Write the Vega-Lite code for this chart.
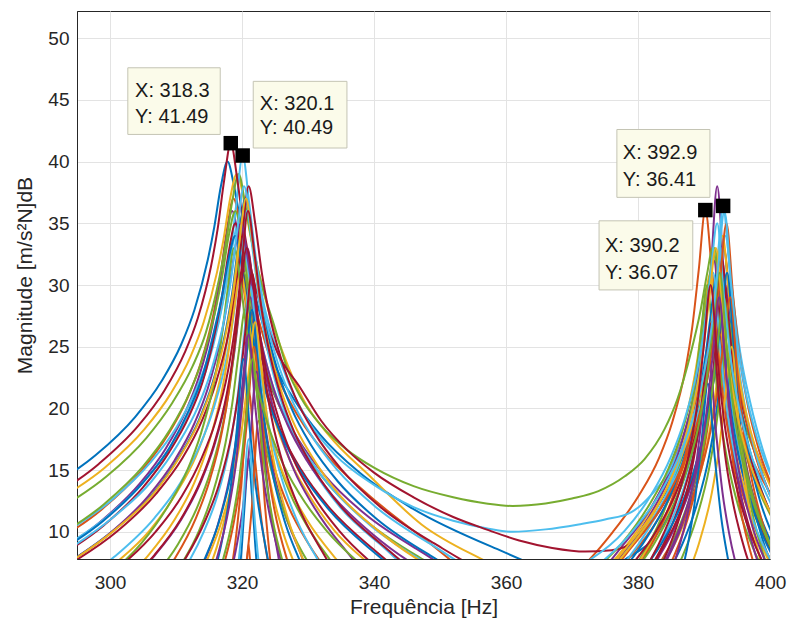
{
"$schema":"https://vega.github.io/schema/vega-lite/v6.json",
"width":693,"height":548,
"autosize":{"type":"none"},
"padding":{"left":77,"top":11,"right":18,"bottom":71},
"background":"white",
"config":{"view":{"stroke":"#262626","strokeWidth":1},"font":"Liberation Sans"},
"layer":[
{"data":{"values":[
{"c":"01","f":289.8,"m":13.3},{"c":"01","f":297.8,"m":16.2},{"c":"01","f":303.8,"m":19.3},{"c":"01","f":307.8,"m":22.2},{"c":"01","f":310.8,"m":25.2},{"c":"01","f":312.8,"m":28.0},{"c":"01","f":314.8,"m":32.0},{"c":"01","f":315.8,"m":34.7},{"c":"01","f":316.8,"m":38.0},{"c":"01","f":317.8,"m":40.0},{"c":"01","f":318.8,"m":38.0},{"c":"01","f":319.8,"m":35.0},{"c":"01","f":320.8,"m":32.0},{"c":"01","f":322.8,"m":27.5},{"c":"01","f":324.8,"m":23.8},{"c":"01","f":327.8,"m":20.8},{"c":"01","f":331.8,"m":17.9},{"c":"01","f":337.8,"m":14.8},{"c":"01","f":345.8,"m":11.9},{"c":"01","f":357.8,"m":8.8},{"c":"01","f":367.8,"m":6.8},{"c":"01","f":374,"m":6.5},{"c":"01","f":378.4,"m":7.9},{"c":"01","f":382.4,"m":9.5},{"c":"01","f":385.4,"m":12.2},{"c":"01","f":387.4,"m":15.0},{"c":"01","f":389.4,"m":19.0},{"c":"01","f":390.4,"m":22.0},{"c":"01","f":391.4,"m":26.0},{"c":"01","f":392.4,"m":29.0},{"c":"01","f":393.4,"m":24.9},{"c":"01","f":394.4,"m":20.4},{"c":"01","f":395.4,"m":17.2},{"c":"01","f":397.4,"m":13.0},{"c":"01","f":399.4,"m":10.1},{"c":"01","f":402.4,"m":7.0},
{"c":"02","f":290.7,"m":8.9},{"c":"02","f":298.7,"m":11.8},{"c":"02","f":304.7,"m":14.9},{"c":"02","f":308.7,"m":17.8},{"c":"02","f":311.7,"m":20.8},{"c":"02","f":313.7,"m":23.6},{"c":"02","f":315.7,"m":27.7},{"c":"02","f":316.7,"m":30.7},{"c":"02","f":317.7,"m":34.4},{"c":"02","f":318.7,"m":37.0},{"c":"02","f":319.7,"m":35.0},{"c":"02","f":320.7,"m":31.7},{"c":"02","f":321.7,"m":29.0},{"c":"02","f":323.7,"m":25.0},{"c":"02","f":325.7,"m":22.2},{"c":"02","f":328.7,"m":19.2},{"c":"02","f":332.7,"m":16.3},{"c":"02","f":338.7,"m":13.2},{"c":"02","f":346.7,"m":9.8},{"c":"02","f":358.7,"m":5.5},{"c":"02","f":366,"m":5.0},{"c":"02","f":370.2,"m":6.5},{"c":"02","f":376.2,"m":10.0},{"c":"02","f":380.2,"m":13.0},{"c":"02","f":383.2,"m":16.0},{"c":"02","f":385.2,"m":18.9},{"c":"02","f":387.2,"m":23.2},{"c":"02","f":388.2,"m":26.5},{"c":"02","f":389.2,"m":31.2},{"c":"02","f":390.2,"m":36.07},{"c":"02","f":391.2,"m":31.2},{"c":"02","f":392.2,"m":26.5},{"c":"02","f":393.2,"m":23.2},{"c":"02","f":395.2,"m":18.9},{"c":"02","f":397.2,"m":16.0},{"c":"02","f":400.2,"m":13.0},
{"c":"03","f":291.2,"m":12.3},{"c":"03","f":299.2,"m":15.2},{"c":"03","f":305.2,"m":18.3},{"c":"03","f":309.2,"m":21.2},{"c":"03","f":312.2,"m":24.2},{"c":"03","f":314.2,"m":27.0},{"c":"03","f":316.2,"m":31.0},{"c":"03","f":317.2,"m":33.7},{"c":"03","f":318.2,"m":37.0},{"c":"03","f":319.2,"m":39.0},{"c":"03","f":320.2,"m":37.2},{"c":"03","f":321.2,"m":34.2},{"c":"03","f":322.2,"m":31.8},{"c":"03","f":324.2,"m":27.6},{"c":"03","f":326.2,"m":24.5},{"c":"03","f":329.2,"m":20.8},{"c":"03","f":333.2,"m":17.8},{"c":"03","f":339.2,"m":14.6},{"c":"03","f":347.2,"m":10.6},{"c":"03","f":357,"m":7.6},{"c":"03","f":365,"m":5.5},{"c":"03","f":371,"m":5.2},{"c":"03","f":377,"m":8.1},{"c":"03","f":381,"m":11.0},{"c":"03","f":384,"m":14.0},{"c":"03","f":386,"m":16.9},{"c":"03","f":388,"m":21.0},{"c":"03","f":389,"m":24.0},{"c":"03","f":390,"m":28.0},{"c":"03","f":391,"m":31.0},{"c":"03","f":392,"m":26.2},{"c":"03","f":393,"m":21.4},{"c":"03","f":394,"m":18.1},{"c":"03","f":396,"m":13.8},{"c":"03","f":398,"m":11.0},{"c":"03","f":401,"m":7.9},
{"c":"04","f":290.5,"m":7.9},{"c":"04","f":298.5,"m":10.8},{"c":"04","f":304.5,"m":13.9},{"c":"04","f":308.5,"m":16.8},{"c":"04","f":311.5,"m":19.8},{"c":"04","f":313.5,"m":22.6},{"c":"04","f":315.5,"m":26.7},{"c":"04","f":316.5,"m":29.7},{"c":"04","f":317.5,"m":33.4},{"c":"04","f":318.5,"m":36.0},{"c":"04","f":319.5,"m":33.7},{"c":"04","f":320.5,"m":30.2},{"c":"04","f":321.5,"m":27.4},{"c":"04","f":323.5,"m":23.1},{"c":"04","f":325.5,"m":20.4},{"c":"04","f":328.5,"m":17.5},{"c":"04","f":332.5,"m":14.6},{"c":"04","f":338.5,"m":11.5},{"c":"04","f":346.5,"m":8.6},{"c":"04","f":358.5,"m":5.5},{"c":"04","f":372,"m":6.0},{"c":"04","f":378,"m":9.1},{"c":"04","f":382,"m":12.0},{"c":"04","f":385,"m":15.1},{"c":"04","f":387,"m":18.0},{"c":"04","f":389,"m":22.3},{"c":"04","f":390,"m":25.7},{"c":"04","f":391,"m":31.0},{"c":"04","f":392,"m":38.0},{"c":"04","f":393,"m":31.0},{"c":"04","f":394,"m":25.7},{"c":"04","f":395,"m":22.3},{"c":"04","f":397,"m":18.0},{"c":"04","f":399,"m":15.1},{"c":"04","f":402,"m":12.0},
{"c":"05","f":291.5,"m":11.6},{"c":"05","f":299.5,"m":14.5},{"c":"05","f":305.5,"m":17.6},{"c":"05","f":309.5,"m":20.5},{"c":"05","f":312.5,"m":23.4},{"c":"05","f":314.5,"m":26.1},{"c":"05","f":316.5,"m":30.4},{"c":"05","f":317.5,"m":33.2},{"c":"05","f":318.5,"m":36.7},{"c":"05","f":319.5,"m":39.0},{"c":"05","f":320.5,"m":36.5},{"c":"05","f":321.5,"m":33.5},{"c":"05","f":323,"m":30.0},{"c":"05","f":325,"m":26.5},{"c":"05","f":327,"m":23.0},{"c":"05","f":329,"m":20.8},{"c":"05","f":332,"m":18.6},{"c":"05","f":336,"m":16.6},{"c":"05","f":340,"m":15.2},{"c":"05","f":346,"m":13.7},{"c":"05","f":352,"m":12.8},{"c":"05","f":357,"m":12.3},{"c":"05","f":361,"m":12.1},{"c":"05","f":366,"m":12.3},{"c":"05","f":370,"m":12.7},{"c":"05","f":374,"m":13.3},{"c":"05","f":378,"m":14.5},{"c":"05","f":381,"m":15.9},{"c":"05","f":384,"m":18.3},{"c":"05","f":386,"m":20.8},{"c":"05","f":388,"m":24.5},{"c":"05","f":389.5,"m":28.0},{"c":"05","f":390.5,"m":31.0},{"c":"05","f":391.3,"m":33.0},{"c":"05","f":392.3,"m":29.5},{"c":"05","f":393.3,"m":25.5},{"c":"05","f":394.3,"m":22.5},{"c":"05","f":396.3,"m":18.5},{"c":"05","f":398.3,"m":15.7},{"c":"05","f":401,"m":13.0},
{"c":"06","f":292.1,"m":9.6},{"c":"06","f":300.1,"m":12.5},{"c":"06","f":306.1,"m":15.6},{"c":"06","f":310.1,"m":18.5},{"c":"06","f":313.1,"m":21.6},{"c":"06","f":315.1,"m":24.5},{"c":"06","f":317.1,"m":28.7},{"c":"06","f":318.1,"m":31.9},{"c":"06","f":319.1,"m":36.4},{"c":"06","f":320.1,"m":40.49},{"c":"06","f":321.1,"m":36.6},{"c":"06","f":322.1,"m":32.2},{"c":"06","f":323.1,"m":29.0},{"c":"06","f":325.1,"m":25.0},{"c":"06","f":327.1,"m":22.0},{"c":"06","f":330,"m":19.0},{"c":"06","f":334,"m":16.3},{"c":"06","f":340,"m":13.8},{"c":"06","f":346,"m":12.0},{"c":"06","f":352,"m":10.9},{"c":"06","f":357,"m":10.3},{"c":"06","f":361,"m":10.0},{"c":"06","f":366,"m":10.2},{"c":"06","f":371,"m":10.6},{"c":"06","f":375,"m":11.0},{"c":"06","f":379,"m":11.6},{"c":"06","f":382,"m":13.0},{"c":"06","f":385,"m":15.2},{"c":"06","f":387,"m":17.8},{"c":"06","f":389,"m":21.5},{"c":"06","f":390.5,"m":25.0},{"c":"06","f":391.5,"m":29.0},{"c":"06","f":392.2,"m":33.0},{"c":"06","f":392.9,"m":36.41},{"c":"06","f":393.7,"m":32.5},{"c":"06","f":394.5,"m":28.5},{"c":"06","f":395.5,"m":24.5},{"c":"06","f":397,"m":20.5},{"c":"06","f":399,"m":16.5},{"c":"06","f":401,"m":13.5},
{"c":"07","f":290.3,"m":12.5},{"c":"07","f":298.3,"m":15.5},{"c":"07","f":304.3,"m":18.6},{"c":"07","f":308.3,"m":21.5},{"c":"07","f":311.3,"m":24.5},{"c":"07","f":313.3,"m":27.3},{"c":"07","f":315.3,"m":31.5},{"c":"07","f":316.3,"m":34.5},{"c":"07","f":317.3,"m":38.5},{"c":"07","f":318.3,"m":41.49},{"c":"07","f":319.3,"m":38.5},{"c":"07","f":320.3,"m":34.5},{"c":"07","f":321.3,"m":31.5},{"c":"07","f":323.3,"m":27.5},{"c":"07","f":325.3,"m":24.6},{"c":"07","f":328.8,"m":21.7},{"c":"07","f":332,"m":19.0},{"c":"07","f":336,"m":16.6},{"c":"07","f":340,"m":14.8},{"c":"07","f":346,"m":12.8},{"c":"07","f":352,"m":11.2},{"c":"07","f":357,"m":10.2},{"c":"07","f":362,"m":9.3},{"c":"07","f":367,"m":8.7},{"c":"07","f":372,"m":8.4},{"c":"07","f":376,"m":8.5},{"c":"07","f":380,"m":9.5},{"c":"07","f":383,"m":11.5},{"c":"07","f":386,"m":14.5},{"c":"07","f":388,"m":17.5},{"c":"07","f":389.5,"m":20.5},{"c":"07","f":390.5,"m":23.5},{"c":"07","f":391.5,"m":27.5},{"c":"07","f":392.5,"m":32.0},{"c":"07","f":393.5,"m":28.0},{"c":"07","f":394.5,"m":24.0},{"c":"07","f":395.5,"m":21.0},{"c":"07","f":397.5,"m":16.8},{"c":"07","f":400,"m":13.0},
{"c":"08","f":292.5,"m":7.1},{"c":"08","f":300.5,"m":10.1},{"c":"08","f":306.5,"m":13.1},{"c":"08","f":310.5,"m":16.1},{"c":"08","f":313.5,"m":19.1},{"c":"08","f":315.5,"m":22.0},{"c":"08","f":317.5,"m":26.2},{"c":"08","f":318.5,"m":29.3},{"c":"08","f":319.5,"m":33.5},{"c":"08","f":320.5,"m":37.0},{"c":"08","f":321.5,"m":34.0},{"c":"08","f":322.5,"m":30.0},{"c":"08","f":323.5,"m":27.0},{"c":"08","f":325.5,"m":22.9},{"c":"08","f":327.5,"m":20.0},{"c":"08","f":330.5,"m":17.0},{"c":"08","f":334.5,"m":14.1},{"c":"08","f":340.5,"m":11.0},{"c":"08","f":348.5,"m":8.1},{"c":"08","f":360.5,"m":5.0},{"c":"08","f":373,"m":6.1},{"c":"08","f":379,"m":9.1},{"c":"08","f":383,"m":12.1},{"c":"08","f":386,"m":15.1},{"c":"08","f":388,"m":18.0},{"c":"08","f":390,"m":22.2},{"c":"08","f":391,"m":25.3},{"c":"08","f":392,"m":29.5},{"c":"08","f":393,"m":33.0},{"c":"08","f":394,"m":27.2},{"c":"08","f":395,"m":22.2},{"c":"08","f":396,"m":18.9},{"c":"08","f":398,"m":14.5},{"c":"08","f":400,"m":11.6},{"c":"08","f":403,"m":8.5},
{"c":"09","f":319,"m":-5.2},{"c":"09","f":320,"m":0.4},{"c":"09","f":320.5,"m":4.9},{"c":"09","f":321,"m":9.0},{"c":"09","f":321.5,"m":4.9},{"c":"09","f":322,"m":0.4},{"c":"09","f":323,"m":-5.2},{"c":"09","f":373,"m":5.0},{"c":"09","f":379,"m":8.1},{"c":"09","f":383,"m":11.0},{"c":"09","f":386,"m":14.1},{"c":"09","f":388,"m":17.0},{"c":"09","f":390,"m":21.2},{"c":"09","f":391,"m":24.4},{"c":"09","f":392,"m":28.9},{"c":"09","f":393,"m":33.0},{"c":"09","f":394,"m":28.2},{"c":"09","f":395,"m":23.4},{"c":"09","f":396,"m":20.1},{"c":"09","f":398,"m":15.8},{"c":"09","f":400,"m":13.0},{"c":"09","f":403,"m":9.9},
{"c":"10","f":292,"m":4.1},{"c":"10","f":300,"m":7.1},{"c":"10","f":306,"m":10.1},{"c":"10","f":310,"m":13.1},{"c":"10","f":313,"m":16.1},{"c":"10","f":315,"m":19.0},{"c":"10","f":317,"m":23.2},{"c":"10","f":318,"m":26.3},{"c":"10","f":319,"m":30.5},{"c":"10","f":320,"m":34.0},{"c":"10","f":321,"m":30.5},{"c":"10","f":322,"m":26.3},{"c":"10","f":323,"m":23.2},{"c":"10","f":325,"m":19.0},{"c":"10","f":327,"m":16.1},{"c":"10","f":330,"m":13.1},{"c":"10","f":334,"m":10.1},{"c":"10","f":340,"m":7.1},{"c":"10","f":348,"m":4.1},{"c":"10","f":379.5,"m":4.1},{"c":"10","f":383.5,"m":7.1},{"c":"10","f":386.5,"m":10.1},{"c":"10","f":388.5,"m":13.0},{"c":"10","f":390.5,"m":17.2},{"c":"10","f":391.5,"m":20.3},{"c":"10","f":392.5,"m":24.5},{"c":"10","f":393.5,"m":28.0},{"c":"10","f":394.5,"m":23.2},{"c":"10","f":395.5,"m":18.4},{"c":"10","f":396.5,"m":15.1},{"c":"10","f":398.5,"m":10.8},{"c":"10","f":400.5,"m":8.0},
{"c":"11","f":300.8,"m":5.0},{"c":"11","f":306.8,"m":8.1},{"c":"11","f":310.8,"m":11.0},{"c":"11","f":313.8,"m":14.1},{"c":"11","f":315.8,"m":17.0},{"c":"11","f":317.8,"m":21.2},{"c":"11","f":318.8,"m":24.4},{"c":"11","f":319.8,"m":28.9},{"c":"11","f":320.8,"m":33.0},{"c":"11","f":321.8,"m":29.5},{"c":"11","f":322.8,"m":25.3},{"c":"11","f":323.8,"m":22.2},{"c":"11","f":325.8,"m":18.0},{"c":"11","f":327.8,"m":15.1},{"c":"11","f":330.8,"m":12.1},{"c":"11","f":334.8,"m":9.1},{"c":"11","f":340.8,"m":6.1},{"c":"11","f":371.5,"m":5.1},{"c":"11","f":377.5,"m":8.1},{"c":"11","f":381.5,"m":11.1},{"c":"11","f":384.5,"m":14.1},{"c":"11","f":386.5,"m":17.0},{"c":"11","f":388.5,"m":21.2},{"c":"11","f":389.5,"m":24.3},{"c":"11","f":390.5,"m":28.5},{"c":"11","f":391.5,"m":32.0},{"c":"11","f":392.5,"m":26.2},{"c":"11","f":393.5,"m":21.2},{"c":"11","f":394.5,"m":17.9},{"c":"11","f":396.5,"m":13.5},{"c":"11","f":398.5,"m":10.6},{"c":"11","f":401.5,"m":7.5},
{"c":"12","f":291,"m":9.3},{"c":"12","f":299,"m":12.2},{"c":"12","f":305,"m":15.3},{"c":"12","f":309,"m":18.2},{"c":"12","f":312,"m":21.2},{"c":"12","f":314,"m":24.0},{"c":"12","f":316,"m":28.0},{"c":"12","f":317,"m":30.7},{"c":"12","f":318,"m":34.0},{"c":"12","f":319,"m":36.0},{"c":"12","f":320,"m":33.4},{"c":"12","f":321,"m":29.7},{"c":"12","f":322,"m":26.7},{"c":"12","f":324,"m":22.6},{"c":"12","f":326,"m":19.8},{"c":"12","f":329,"m":16.8},{"c":"12","f":333,"m":13.9},{"c":"12","f":339,"m":10.8},{"c":"12","f":347,"m":7.9},{"c":"12","f":359,"m":4.8},{"c":"12","f":376.5,"m":5.1},{"c":"12","f":380.5,"m":8.0},{"c":"12","f":383.5,"m":11.1},{"c":"12","f":385.5,"m":14.0},{"c":"12","f":387.5,"m":18.2},{"c":"12","f":388.5,"m":21.4},{"c":"12","f":389.5,"m":25.9},{"c":"12","f":390.5,"m":30.0},{"c":"12","f":391.5,"m":24.2},{"c":"12","f":392.5,"m":19.2},{"c":"12","f":393.5,"m":15.9},{"c":"12","f":395.5,"m":11.5},{"c":"12","f":397.5,"m":8.6},{"c":"12","f":400.5,"m":5.5},
{"c":"13","f":291.5,"m":8.3},{"c":"13","f":299.5,"m":11.2},{"c":"13","f":305.5,"m":14.3},{"c":"13","f":309.5,"m":17.2},{"c":"13","f":312.5,"m":20.2},{"c":"13","f":314.5,"m":23.0},{"c":"13","f":316.5,"m":27.0},{"c":"13","f":317.5,"m":29.7},{"c":"13","f":318.5,"m":33.0},{"c":"13","f":319.5,"m":35.0},{"c":"13","f":320.5,"m":32.7},{"c":"13","f":321.5,"m":29.2},{"c":"13","f":322.5,"m":26.4},{"c":"13","f":324.5,"m":22.1},{"c":"13","f":326.5,"m":19.4},{"c":"13","f":329.5,"m":16.5},{"c":"13","f":333.5,"m":13.6},{"c":"13","f":339.5,"m":10.5},{"c":"13","f":347.5,"m":7.6},{"c":"13","f":359.5,"m":4.5},{"c":"13","f":378.2,"m":5.1},{"c":"13","f":382.2,"m":8.0},{"c":"13","f":385.2,"m":11.1},{"c":"13","f":387.2,"m":14.0},{"c":"13","f":389.2,"m":18.2},{"c":"13","f":390.2,"m":21.4},{"c":"13","f":391.2,"m":25.9},{"c":"13","f":392.2,"m":30.0},{"c":"13","f":393.2,"m":25.2},{"c":"13","f":394.2,"m":20.4},{"c":"13","f":395.2,"m":17.1},{"c":"13","f":397.2,"m":12.8},{"c":"13","f":399.2,"m":10.0},{"c":"13","f":402.2,"m":6.9},
{"c":"14","f":291,"m":7.6},{"c":"14","f":299,"m":10.5},{"c":"14","f":305,"m":13.6},{"c":"14","f":309,"m":16.5},{"c":"14","f":312,"m":19.4},{"c":"14","f":314,"m":22.1},{"c":"14","f":316,"m":26.4},{"c":"14","f":317,"m":29.2},{"c":"14","f":318,"m":32.7},{"c":"14","f":319,"m":35.0},{"c":"14","f":320,"m":32.0},{"c":"14","f":321,"m":28.0},{"c":"14","f":322,"m":25.0},{"c":"14","f":324,"m":20.9},{"c":"14","f":326,"m":18.0},{"c":"14","f":329,"m":15.0},{"c":"14","f":333,"m":12.1},{"c":"14","f":339,"m":9.0},{"c":"14","f":347,"m":6.1},{"c":"14","f":377.8,"m":4.1},{"c":"14","f":381.8,"m":7.0},{"c":"14","f":384.8,"m":10.1},{"c":"14","f":386.8,"m":13.0},{"c":"14","f":388.8,"m":17.2},{"c":"14","f":389.8,"m":20.4},{"c":"14","f":390.8,"m":24.9},{"c":"14","f":391.8,"m":29.0},{"c":"14","f":392.8,"m":23.2},{"c":"14","f":393.8,"m":18.2},{"c":"14","f":394.8,"m":14.9},{"c":"14","f":396.8,"m":10.5},{"c":"14","f":398.8,"m":7.6},
{"c":"15","f":319,"m":3.7},{"c":"15","f":320,"m":9.0},{"c":"15","f":320.5,"m":13.0},{"c":"15","f":321,"m":16.0},{"c":"15","f":321.5,"m":13.0},{"c":"15","f":322,"m":9.0},{"c":"15","f":323,"m":3.7},{"c":"15","f":379.8,"m":3.1},{"c":"15","f":383.8,"m":6.0},{"c":"15","f":386.8,"m":9.1},{"c":"15","f":388.8,"m":12.0},{"c":"15","f":390.8,"m":16.2},{"c":"15","f":391.8,"m":19.4},{"c":"15","f":392.8,"m":23.9},{"c":"15","f":393.8,"m":28.0},{"c":"15","f":394.8,"m":22.2},{"c":"15","f":395.8,"m":17.2},{"c":"15","f":396.8,"m":13.9},{"c":"15","f":398.8,"m":9.5},{"c":"15","f":400.8,"m":6.6},
{"c":"16","f":316,"m":1.5},{"c":"16","f":318,"m":5.8},{"c":"16","f":319,"m":9.2},{"c":"16","f":320,"m":14.5},{"c":"16","f":321,"m":21.5},{"c":"16","f":322,"m":15.7},{"c":"16","f":323,"m":10.7},{"c":"16","f":324,"m":7.4},{"c":"16","f":326,"m":3.0},{"c":"16","f":378.5,"m":2.1},{"c":"16","f":382.5,"m":5.1},{"c":"16","f":385.5,"m":8.1},{"c":"16","f":387.5,"m":11.0},{"c":"16","f":389.5,"m":15.2},{"c":"16","f":390.5,"m":18.3},{"c":"16","f":391.5,"m":22.5},{"c":"16","f":392.5,"m":26.0},{"c":"16","f":393.5,"m":20.2},{"c":"16","f":394.5,"m":15.2},{"c":"16","f":395.5,"m":11.9},{"c":"16","f":397.5,"m":7.5},{"c":"16","f":399.5,"m":4.6},
{"c":"17","f":311.2,"m":2.9},{"c":"17","f":314.2,"m":6.0},{"c":"17","f":316.2,"m":8.8},{"c":"17","f":318.2,"m":13.1},{"c":"17","f":319.2,"m":16.4},{"c":"17","f":320.2,"m":21.2},{"c":"17","f":321.2,"m":26.0},{"c":"17","f":322.2,"m":21.9},{"c":"17","f":323.2,"m":17.4},{"c":"17","f":324.2,"m":14.2},{"c":"17","f":326.2,"m":10.0},{"c":"17","f":328.2,"m":7.1},{"c":"17","f":331.2,"m":4.0},{"c":"17","f":372,"m":3.1},{"c":"17","f":378,"m":6.1},{"c":"17","f":382,"m":9.1},{"c":"17","f":385,"m":12.1},{"c":"17","f":387,"m":15.0},{"c":"17","f":389,"m":19.2},{"c":"17","f":390,"m":22.3},{"c":"17","f":391,"m":26.5},{"c":"17","f":392,"m":30.0},{"c":"17","f":393,"m":24.2},{"c":"17","f":394,"m":19.2},{"c":"17","f":395,"m":15.9},{"c":"17","f":397,"m":11.5},{"c":"17","f":399,"m":8.6},{"c":"17","f":402,"m":5.5},
{"c":"18","f":307.3,"m":1.6},{"c":"18","f":311.3,"m":4.5},{"c":"18","f":314.3,"m":7.6},{"c":"18","f":316.3,"m":10.5},{"c":"18","f":318.3,"m":14.9},{"c":"18","f":319.3,"m":18.2},{"c":"18","f":320.3,"m":23.2},{"c":"18","f":321.3,"m":29.0},{"c":"18","f":322.3,"m":24.2},{"c":"18","f":323.3,"m":19.4},{"c":"18","f":324.3,"m":16.1},{"c":"18","f":326.3,"m":11.8},{"c":"18","f":328.3,"m":9.0},{"c":"18","f":331.3,"m":5.9},{"c":"18","f":379.2,"m":5.1},{"c":"18","f":383.2,"m":8.0},{"c":"18","f":386.2,"m":11.1},{"c":"18","f":388.2,"m":14.0},{"c":"18","f":390.2,"m":18.2},{"c":"18","f":391.2,"m":21.4},{"c":"18","f":392.2,"m":25.9},{"c":"18","f":393.2,"m":30.0},{"c":"18","f":394.2,"m":24.2},{"c":"18","f":395.2,"m":19.2},{"c":"18","f":396.2,"m":15.9},{"c":"18","f":398.2,"m":11.5},{"c":"18","f":400.2,"m":8.6},
{"c":"19","f":300.3,"m":3.0},{"c":"19","f":306.3,"m":6.1},{"c":"19","f":310.3,"m":9.0},{"c":"19","f":313.3,"m":12.1},{"c":"19","f":315.3,"m":15.0},{"c":"19","f":317.3,"m":19.2},{"c":"19","f":318.3,"m":22.4},{"c":"19","f":319.3,"m":26.9},{"c":"19","f":320.3,"m":31.0},{"c":"19","f":321.3,"m":27.5},{"c":"19","f":322.3,"m":23.3},{"c":"19","f":323.3,"m":20.2},{"c":"19","f":325.3,"m":16.0},{"c":"19","f":327.3,"m":13.1},{"c":"19","f":330.3,"m":10.1},{"c":"19","f":334.3,"m":7.1},{"c":"19","f":340.3,"m":4.1},{"c":"19","f":363.6,"m":3.1},{"c":"19","f":371.6,"m":6.1},{"c":"19","f":377.6,"m":9.1},{"c":"19","f":381.6,"m":12.1},{"c":"19","f":384.6,"m":15.1},{"c":"19","f":386.6,"m":18.0},{"c":"19","f":388.6,"m":22.2},{"c":"19","f":389.6,"m":25.3},{"c":"19","f":390.6,"m":29.5},{"c":"19","f":391.6,"m":33.0},{"c":"19","f":392.6,"m":28.2},{"c":"19","f":393.6,"m":23.4},{"c":"19","f":394.6,"m":20.1},{"c":"19","f":396.6,"m":15.8},{"c":"19","f":398.6,"m":13.0},{"c":"19","f":401.6,"m":9.9},
{"c":"20","f":292.7,"m":5.0},{"c":"20","f":300.7,"m":8.0},{"c":"20","f":306.7,"m":11.1},{"c":"20","f":310.7,"m":14.0},{"c":"20","f":313.7,"m":17.1},{"c":"20","f":315.7,"m":20.0},{"c":"20","f":317.7,"m":24.2},{"c":"20","f":318.7,"m":27.4},{"c":"20","f":319.7,"m":31.9},{"c":"20","f":320.7,"m":36.0},{"c":"20","f":321.7,"m":32.5},{"c":"20","f":322.7,"m":28.3},{"c":"20","f":323.7,"m":25.2},{"c":"20","f":325.7,"m":21.0},{"c":"20","f":327.7,"m":18.1},{"c":"20","f":330.7,"m":15.1},{"c":"20","f":334.7,"m":12.1},{"c":"20","f":340.7,"m":9.1},{"c":"20","f":348.7,"m":6.1},{"c":"20","f":373.3,"m":6.0},{"c":"20","f":379.3,"m":9.1},{"c":"20","f":383.3,"m":12.0},{"c":"20","f":386.3,"m":15.1},{"c":"20","f":388.3,"m":18.0},{"c":"20","f":390.3,"m":22.2},{"c":"20","f":391.3,"m":25.4},{"c":"20","f":392.3,"m":29.9},{"c":"20","f":393.3,"m":34.0},{"c":"20","f":394.3,"m":28.2},{"c":"20","f":395.3,"m":23.2},{"c":"20","f":396.3,"m":19.9},{"c":"20","f":398.3,"m":15.5},{"c":"20","f":400.3,"m":12.6},
{"c":"21","f":293,"m":7.1},{"c":"21","f":301,"m":10.0},{"c":"21","f":307,"m":13.1},{"c":"21","f":311,"m":16.0},{"c":"21","f":314,"m":19.1},{"c":"21","f":316,"m":22.0},{"c":"21","f":318,"m":26.2},{"c":"21","f":319,"m":29.4},{"c":"21","f":320,"m":33.9},{"c":"21","f":321,"m":38.0},{"c":"21","f":322,"m":35.0},{"c":"21","f":323,"m":31.0},{"c":"21","f":324,"m":28.0},{"c":"21","f":326,"m":23.9},{"c":"21","f":328,"m":21.0},{"c":"21","f":331,"m":18.0},{"c":"21","f":335,"m":15.1},{"c":"21","f":341,"m":12.0},{"c":"21","f":349,"m":9.1},{"c":"21","f":361,"m":6.0},{"c":"21","f":379,"m":5.1},{"c":"21","f":383,"m":8.0},{"c":"21","f":386,"m":11.1},{"c":"21","f":388,"m":14.0},{"c":"21","f":390,"m":18.2},{"c":"21","f":391,"m":21.4},{"c":"21","f":392,"m":25.9},{"c":"21","f":393,"m":30.0},{"c":"21","f":394,"m":24.2},{"c":"21","f":395,"m":19.2},{"c":"21","f":396,"m":15.9},{"c":"21","f":398,"m":11.5},{"c":"21","f":400,"m":8.6},
{"c":"22","f":291,"m":8.0},{"c":"22","f":299,"m":10.9},{"c":"22","f":305,"m":14.0},{"c":"22","f":309,"m":16.8},{"c":"22","f":312,"m":19.9},{"c":"22","f":314,"m":22.6},{"c":"22","f":316,"m":26.8},{"c":"22","f":317,"m":29.2},{"c":"22","f":318,"m":32.2},{"c":"22","f":319,"m":34.0},{"c":"22","f":320,"m":31.4},{"c":"22","f":321,"m":27.7},{"c":"22","f":322,"m":24.7},{"c":"22","f":324,"m":20.6},{"c":"22","f":326,"m":17.8},{"c":"22","f":329,"m":14.8},{"c":"22","f":333,"m":11.9},{"c":"22","f":339,"m":8.8},{"c":"22","f":347,"m":5.9},{"c":"22","f":372,"m":4.1},{"c":"22","f":378,"m":7.1},{"c":"22","f":382,"m":10.1},{"c":"22","f":385,"m":13.1},{"c":"22","f":387,"m":16.0},{"c":"22","f":389,"m":20.2},{"c":"22","f":390,"m":23.3},{"c":"22","f":391,"m":27.5},{"c":"22","f":392,"m":31.0},{"c":"22","f":393,"m":25.2},{"c":"22","f":394,"m":20.2},{"c":"22","f":395,"m":16.9},{"c":"22","f":397,"m":12.5},{"c":"22","f":399,"m":9.6},{"c":"22","f":402,"m":6.5},
{"c":"23","f":300,"m":2.0},{"c":"23","f":306,"m":5.1},{"c":"23","f":310,"m":8.0},{"c":"23","f":313,"m":11.1},{"c":"23","f":315,"m":14.0},{"c":"23","f":317,"m":18.2},{"c":"23","f":318,"m":21.4},{"c":"23","f":319,"m":25.9},{"c":"23","f":320,"m":30.0},{"c":"23","f":321,"m":26.5},{"c":"23","f":322,"m":22.3},{"c":"23","f":323,"m":19.2},{"c":"23","f":325,"m":15.0},{"c":"23","f":327,"m":12.1},{"c":"23","f":330,"m":9.1},{"c":"23","f":334,"m":6.1},{"c":"23","f":340,"m":3.1},{"c":"23","f":377,"m":5.1},{"c":"23","f":381,"m":8.0},{"c":"23","f":384,"m":11.1},{"c":"23","f":386,"m":14.0},{"c":"23","f":388,"m":18.2},{"c":"23","f":389,"m":21.4},{"c":"23","f":390,"m":25.9},{"c":"23","f":391,"m":30.0},{"c":"23","f":392,"m":25.2},{"c":"23","f":393,"m":20.4},{"c":"23","f":394,"m":17.1},{"c":"23","f":396,"m":12.8},{"c":"23","f":398,"m":10.0},{"c":"23","f":401,"m":6.9},
{"c":"24","f":299.8,"m":5.0},{"c":"24","f":305.8,"m":8.1},{"c":"24","f":309.8,"m":11.0},{"c":"24","f":312.8,"m":14.0},{"c":"24","f":314.8,"m":16.9},{"c":"24","f":316.8,"m":21.0},{"c":"24","f":317.8,"m":24.0},{"c":"24","f":318.8,"m":28.0},{"c":"24","f":319.8,"m":31.0},{"c":"24","f":320.8,"m":28.0},{"c":"24","f":321.8,"m":24.0},{"c":"24","f":322.8,"m":21.0},{"c":"24","f":324.8,"m":16.9},{"c":"24","f":326.8,"m":14.0},{"c":"24","f":329.8,"m":11.0},{"c":"24","f":333.8,"m":8.1},{"c":"24","f":339.8,"m":5.0},{"c":"24","f":372.8,"m":6.0},{"c":"24","f":378.8,"m":9.1},{"c":"24","f":382.8,"m":12.0},{"c":"24","f":385.8,"m":15.1},{"c":"24","f":387.8,"m":18.0},{"c":"24","f":389.8,"m":22.2},{"c":"24","f":390.8,"m":25.4},{"c":"24","f":391.8,"m":29.9},{"c":"24","f":392.8,"m":34.0},{"c":"24","f":393.8,"m":29.2},{"c":"24","f":394.8,"m":24.4},{"c":"24","f":395.8,"m":21.1},{"c":"24","f":397.8,"m":16.8},{"c":"24","f":399.8,"m":14.0},{"c":"24","f":402.8,"m":10.9},
{"c":"25","f":291.8,"m":6.9},{"c":"25","f":299.8,"m":9.8},{"c":"25","f":305.8,"m":12.9},{"c":"25","f":309.8,"m":15.8},{"c":"25","f":312.8,"m":18.8},{"c":"25","f":314.8,"m":21.6},{"c":"25","f":316.8,"m":25.7},{"c":"25","f":317.8,"m":28.7},{"c":"25","f":318.8,"m":32.4},{"c":"25","f":319.8,"m":35.0},{"c":"25","f":320.8,"m":32.4},{"c":"25","f":321.8,"m":28.7},{"c":"25","f":322.8,"m":25.7},{"c":"25","f":324.8,"m":21.6},{"c":"25","f":326.8,"m":18.8},{"c":"25","f":329.8,"m":15.8},{"c":"25","f":333.8,"m":12.9},{"c":"25","f":339.8,"m":9.8},{"c":"25","f":347.8,"m":6.9},{"c":"25","f":378.6,"m":3.1},{"c":"25","f":382.6,"m":6.1},{"c":"25","f":385.6,"m":9.1},{"c":"25","f":387.6,"m":12.0},{"c":"25","f":389.6,"m":16.2},{"c":"25","f":390.6,"m":19.3},{"c":"25","f":391.6,"m":23.5},{"c":"25","f":392.6,"m":27.0},{"c":"25","f":393.6,"m":21.2},{"c":"25","f":394.6,"m":16.2},{"c":"25","f":395.6,"m":12.9},{"c":"25","f":397.6,"m":8.5},{"c":"25","f":399.6,"m":5.6},
{"c":"26","f":306.5,"m":4.1},{"c":"26","f":310.5,"m":7.1},{"c":"26","f":313.5,"m":10.1},{"c":"26","f":315.5,"m":13.0},{"c":"26","f":317.5,"m":17.2},{"c":"26","f":318.5,"m":20.3},{"c":"26","f":319.5,"m":24.5},{"c":"26","f":320.5,"m":28.0},{"c":"26","f":321.5,"m":24.5},{"c":"26","f":322.5,"m":20.3},{"c":"26","f":323.5,"m":17.2},{"c":"26","f":325.5,"m":13.0},{"c":"26","f":327.5,"m":10.1},{"c":"26","f":330.5,"m":7.1},{"c":"26","f":334.5,"m":4.1},{"c":"26","f":379.8,"m":2.1},{"c":"26","f":383.8,"m":5.0},{"c":"26","f":386.8,"m":8.1},{"c":"26","f":388.8,"m":11.0},{"c":"26","f":390.8,"m":15.2},{"c":"26","f":391.8,"m":18.4},{"c":"26","f":392.8,"m":22.9},{"c":"26","f":393.8,"m":27.0},{"c":"26","f":394.8,"m":21.2},{"c":"26","f":395.8,"m":16.2},{"c":"26","f":396.8,"m":12.9},{"c":"26","f":398.8,"m":8.5},{"c":"26","f":400.8,"m":5.6},
{"c":"27","f":307.2,"m":4.0},{"c":"27","f":311.2,"m":6.9},{"c":"27","f":314.2,"m":10.0},{"c":"27","f":316.2,"m":12.8},{"c":"27","f":318.2,"m":17.1},{"c":"27","f":319.2,"m":20.4},{"c":"27","f":320.2,"m":25.2},{"c":"27","f":321.2,"m":30.0},{"c":"27","f":322.2,"m":25.9},{"c":"27","f":323.2,"m":21.4},{"c":"27","f":324.2,"m":18.2},{"c":"27","f":326.2,"m":14.0},{"c":"27","f":328.2,"m":11.1},{"c":"27","f":331.2,"m":8.0},{"c":"27","f":335.2,"m":5.1},{"c":"27","f":371.4,"m":4.1},{"c":"27","f":377.4,"m":7.1},{"c":"27","f":381.4,"m":10.1},{"c":"27","f":384.4,"m":13.1},{"c":"27","f":386.4,"m":16.0},{"c":"27","f":388.4,"m":20.2},{"c":"27","f":389.4,"m":23.3},{"c":"27","f":390.4,"m":27.5},{"c":"27","f":391.4,"m":31.0},{"c":"27","f":392.4,"m":25.2},{"c":"27","f":393.4,"m":20.2},{"c":"27","f":394.4,"m":16.9},{"c":"27","f":396.4,"m":12.5},{"c":"27","f":398.4,"m":9.6},{"c":"27","f":401.4,"m":6.5},
{"c":"28","f":300.7,"m":5.0},{"c":"28","f":306.7,"m":8.1},{"c":"28","f":310.7,"m":11.0},{"c":"28","f":313.7,"m":14.1},{"c":"28","f":315.7,"m":17.0},{"c":"28","f":317.7,"m":21.2},{"c":"28","f":318.7,"m":24.4},{"c":"28","f":319.7,"m":28.9},{"c":"28","f":320.7,"m":33.0},{"c":"28","f":321.7,"m":30.0},{"c":"28","f":322.7,"m":26.0},{"c":"28","f":323.7,"m":23.0},{"c":"28","f":325.7,"m":18.9},{"c":"28","f":327.7,"m":16.0},{"c":"28","f":330.7,"m":13.0},{"c":"28","f":334.7,"m":10.1},{"c":"28","f":340.7,"m":7.0},{"c":"28","f":348.7,"m":4.1},{"c":"28","f":372.7,"m":4.0},{"c":"28","f":378.7,"m":7.1},{"c":"28","f":382.7,"m":10.0},{"c":"28","f":385.7,"m":13.1},{"c":"28","f":387.7,"m":16.0},{"c":"28","f":389.7,"m":20.2},{"c":"28","f":390.7,"m":23.4},{"c":"28","f":391.7,"m":27.9},{"c":"28","f":392.7,"m":32.0},{"c":"28","f":393.7,"m":27.2},{"c":"28","f":394.7,"m":22.4},{"c":"28","f":395.7,"m":19.1},{"c":"28","f":397.7,"m":14.8},{"c":"28","f":399.7,"m":12.0},{"c":"28","f":402.7,"m":8.9},
{"c":"29","f":307.5,"m":2.0},{"c":"29","f":311.5,"m":4.9},{"c":"29","f":314.5,"m":8.0},{"c":"29","f":316.5,"m":10.8},{"c":"29","f":318.5,"m":15.1},{"c":"29","f":319.5,"m":18.4},{"c":"29","f":320.5,"m":23.2},{"c":"29","f":321.5,"m":28.0},{"c":"29","f":322.5,"m":23.2},{"c":"29","f":323.5,"m":18.4},{"c":"29","f":324.5,"m":15.1},{"c":"29","f":326.5,"m":10.8},{"c":"29","f":328.5,"m":8.0},{"c":"29","f":331.5,"m":4.9},{"c":"29","f":373.5,"m":3.0},{"c":"29","f":379.5,"m":6.1},{"c":"29","f":383.5,"m":9.0},{"c":"29","f":386.5,"m":12.1},{"c":"29","f":388.5,"m":15.0},{"c":"29","f":390.5,"m":19.2},{"c":"29","f":391.5,"m":22.4},{"c":"29","f":392.5,"m":26.9},{"c":"29","f":393.5,"m":31.0},{"c":"29","f":394.5,"m":25.2},{"c":"29","f":395.5,"m":20.2},{"c":"29","f":396.5,"m":16.9},{"c":"29","f":398.5,"m":12.5},{"c":"29","f":400.5,"m":9.6},
{"c":"30","f":311.8,"m":0.5},{"c":"30","f":314.8,"m":3.6},{"c":"30","f":316.8,"m":6.5},{"c":"30","f":318.8,"m":10.9},{"c":"30","f":319.8,"m":14.2},{"c":"30","f":320.8,"m":19.2},{"c":"30","f":321.8,"m":25.0},{"c":"30","f":322.8,"m":20.2},{"c":"30","f":323.8,"m":15.4},{"c":"30","f":324.8,"m":12.1},{"c":"30","f":326.8,"m":7.8},{"c":"30","f":328.8,"m":5.0},{"c":"30","f":380,"m":5.1},{"c":"30","f":384,"m":8.1},{"c":"30","f":387,"m":11.1},{"c":"30","f":389,"m":14.0},{"c":"30","f":391,"m":18.2},{"c":"30","f":392,"m":21.3},{"c":"30","f":393,"m":25.5},{"c":"30","f":394,"m":29.0},{"c":"30","f":395,"m":23.2},{"c":"30","f":396,"m":18.2},{"c":"30","f":397,"m":14.9},{"c":"30","f":399,"m":10.5},{"c":"30","f":401,"m":7.6},
{"c":"31","f":308,"m":2.1},{"c":"31","f":312,"m":5.0},{"c":"31","f":315,"m":8.1},{"c":"31","f":317,"m":11.0},{"c":"31","f":319,"m":15.2},{"c":"31","f":320,"m":18.4},{"c":"31","f":321,"m":22.9},{"c":"31","f":322,"m":27.0},{"c":"31","f":323,"m":22.9},{"c":"31","f":324,"m":18.4},{"c":"31","f":325,"m":15.2},{"c":"31","f":327,"m":11.0},{"c":"31","f":329,"m":8.1},{"c":"31","f":332,"m":5.0},{"c":"31","f":384.2,"m":3.0},{"c":"31","f":387.2,"m":6.1},{"c":"31","f":389.2,"m":9.0},{"c":"31","f":391.2,"m":13.2},{"c":"31","f":392.2,"m":16.4},{"c":"31","f":393.2,"m":20.9},{"c":"31","f":394.2,"m":25.0},{"c":"31","f":395.2,"m":19.2},{"c":"31","f":396.2,"m":14.2},{"c":"31","f":397.2,"m":10.9},{"c":"31","f":399.2,"m":6.5},
{"c":"32","f":315.2,"m":1.6},{"c":"32","f":317.2,"m":4.5},{"c":"32","f":319.2,"m":8.9},{"c":"32","f":320.2,"m":12.2},{"c":"32","f":321.2,"m":17.2},{"c":"32","f":322.2,"m":23.0},{"c":"32","f":323.2,"m":17.2},{"c":"32","f":324.2,"m":12.2},{"c":"32","f":325.2,"m":8.9},{"c":"32","f":327.2,"m":4.5},{"c":"32","f":380.8,"m":2.0},{"c":"32","f":383.8,"m":5.1},{"c":"32","f":385.8,"m":8.0},{"c":"32","f":387.8,"m":12.2},{"c":"32","f":388.8,"m":15.4},{"c":"32","f":389.8,"m":19.9},{"c":"32","f":390.8,"m":24.0},{"c":"32","f":391.8,"m":18.2},{"c":"32","f":392.8,"m":13.2},{"c":"32","f":393.8,"m":9.9},{"c":"32","f":395.8,"m":5.5},
{"c":"33","f":298.8,"m":6.1},{"c":"33","f":304.8,"m":9.1},{"c":"33","f":308.8,"m":12.1},{"c":"33","f":311.8,"m":15.1},{"c":"33","f":313.8,"m":18.0},{"c":"33","f":315.8,"m":22.2},{"c":"33","f":316.8,"m":25.3},{"c":"33","f":317.8,"m":29.5},{"c":"33","f":318.8,"m":33.0},{"c":"33","f":319.8,"m":30.0},{"c":"33","f":320.8,"m":26.0},{"c":"33","f":321.8,"m":23.0},{"c":"33","f":323.8,"m":18.9},{"c":"33","f":325.8,"m":16.0},{"c":"33","f":328.8,"m":13.0},{"c":"33","f":332.8,"m":10.1},{"c":"33","f":338.8,"m":7.0},{"c":"33","f":346.8,"m":4.1},{"c":"33","f":379,"m":4.1},{"c":"33","f":383,"m":7.0},{"c":"33","f":386,"m":10.1},{"c":"33","f":388,"m":13.0},{"c":"33","f":390,"m":17.2},{"c":"33","f":391,"m":20.4},{"c":"33","f":392,"m":24.9},{"c":"33","f":393,"m":29.0},{"c":"33","f":394,"m":24.2},{"c":"33","f":395,"m":19.4},{"c":"33","f":396,"m":16.1},{"c":"33","f":398,"m":11.8},{"c":"33","f":400,"m":9.0},
{"c":"34","f":292.3,"m":8.1},{"c":"34","f":300.3,"m":11.1},{"c":"34","f":306.3,"m":14.1},{"c":"34","f":310.3,"m":17.1},{"c":"34","f":313.3,"m":20.1},{"c":"34","f":315.3,"m":23.0},{"c":"34","f":317.3,"m":27.2},{"c":"34","f":318.3,"m":30.3},{"c":"34","f":319.3,"m":34.5},{"c":"34","f":320.3,"m":38.0},{"c":"34","f":321.3,"m":35.0},{"c":"34","f":322.3,"m":31.0},{"c":"34","f":323.3,"m":28.0},{"c":"34","f":325.3,"m":23.9},{"c":"34","f":327.3,"m":21.0},{"c":"34","f":330.3,"m":18.0},{"c":"34","f":334.3,"m":15.1},{"c":"34","f":340.3,"m":12.0},{"c":"34","f":348.3,"m":9.1},{"c":"34","f":360.3,"m":6.0},{"c":"34","f":366,"m":6.2},{"c":"34","f":372,"m":7.5},{"c":"34","f":378,"m":10.1},{"c":"34","f":382,"m":13.0},{"c":"34","f":385,"m":16.1},{"c":"34","f":387,"m":19.0},{"c":"34","f":389,"m":23.2},{"c":"34","f":390,"m":26.4},{"c":"34","f":391,"m":30.9},{"c":"34","f":392,"m":35.0},{"c":"34","f":393,"m":29.2},{"c":"34","f":394,"m":24.2},{"c":"34","f":395,"m":20.9},{"c":"34","f":397,"m":16.5},{"c":"34","f":399,"m":13.6},{"c":"34","f":402,"m":10.5},
{"c":"35","f":301.5,"m":1.9},{"c":"35","f":307.5,"m":5.0},{"c":"35","f":311.5,"m":7.9},{"c":"35","f":314.5,"m":11.0},{"c":"35","f":316.5,"m":13.8},{"c":"35","f":318.5,"m":18.1},{"c":"35","f":319.5,"m":21.4},{"c":"35","f":320.5,"m":26.2},{"c":"35","f":321.5,"m":31.0},{"c":"35","f":322.5,"m":26.9},{"c":"35","f":323.5,"m":22.4},{"c":"35","f":324.5,"m":19.2},{"c":"35","f":326.5,"m":15.0},{"c":"35","f":328.5,"m":12.1},{"c":"35","f":331.5,"m":9.0},{"c":"35","f":335.5,"m":6.1},{"c":"35","f":377.2,"m":2.1},{"c":"35","f":381.2,"m":5.0},{"c":"35","f":384.2,"m":8.1},{"c":"35","f":386.2,"m":11.0},{"c":"35","f":388.2,"m":15.2},{"c":"35","f":389.2,"m":18.4},{"c":"35","f":390.2,"m":22.9},{"c":"35","f":391.2,"m":27.0},{"c":"35","f":392.2,"m":21.2},{"c":"35","f":393.2,"m":16.2},{"c":"35","f":394.2,"m":12.9},{"c":"35","f":396.2,"m":8.5},{"c":"35","f":398.2,"m":5.6},
{"c":"36","f":313.2,"m":2.6},{"c":"36","f":315.2,"m":5.5},{"c":"36","f":317.2,"m":9.9},{"c":"36","f":318.2,"m":13.2},{"c":"36","f":319.2,"m":18.2},{"c":"36","f":320.2,"m":24.0},{"c":"36","f":321.2,"m":18.2},{"c":"36","f":322.2,"m":13.2},{"c":"36","f":323.2,"m":9.9},{"c":"36","f":325.2,"m":5.5},{"c":"36","f":383.6,"m":2.0},{"c":"36","f":385.6,"m":4.8},{"c":"36","f":387.6,"m":9.1},{"c":"36","f":388.6,"m":12.4},{"c":"36","f":389.6,"m":17.2},{"c":"36","f":390.6,"m":22.0},{"c":"36","f":391.6,"m":16.2},{"c":"36","f":392.6,"m":11.2},{"c":"36","f":393.6,"m":7.9},{"c":"36","f":395.6,"m":3.5},
{"c":"37","f":317.5,"m":-1.0},{"c":"37","f":319.5,"m":3.3},{"c":"37","f":320.5,"m":6.7},{"c":"37","f":321.5,"m":12.0},{"c":"37","f":322.5,"m":19.0},{"c":"37","f":323.5,"m":12.0},{"c":"37","f":324.5,"m":6.7},{"c":"37","f":325.5,"m":3.3},{"c":"37","f":373.4,"m":5.9},{"c":"37","f":379.4,"m":9.0},{"c":"37","f":383.4,"m":11.9},{"c":"37","f":386.4,"m":15.0},{"c":"37","f":388.4,"m":17.8},{"c":"37","f":390.4,"m":22.1},{"c":"37","f":391.4,"m":25.4},{"c":"37","f":392.4,"m":30.2},{"c":"37","f":393.4,"m":35.0},{"c":"37","f":394.4,"m":29.2},{"c":"37","f":395.4,"m":24.2},{"c":"37","f":396.4,"m":20.9},{"c":"37","f":398.4,"m":16.5},{"c":"37","f":400.4,"m":13.6},
{"c":"38","f":292.6,"m":7.1},{"c":"38","f":300.6,"m":10.1},{"c":"38","f":306.6,"m":13.1},{"c":"38","f":310.6,"m":16.1},{"c":"38","f":313.6,"m":19.1},{"c":"38","f":315.6,"m":22.0},{"c":"38","f":317.6,"m":26.2},{"c":"38","f":318.6,"m":29.3},{"c":"38","f":319.6,"m":33.5},{"c":"38","f":320.6,"m":37.0},{"c":"38","f":321.6,"m":33.5},{"c":"38","f":322.6,"m":29.3},{"c":"38","f":323.6,"m":26.2},{"c":"38","f":325.6,"m":22.0},{"c":"38","f":327.6,"m":19.1},{"c":"38","f":330.6,"m":16.1},{"c":"38","f":334.6,"m":13.1},{"c":"38","f":340.6,"m":10.1},{"c":"38","f":348.6,"m":7.1},{"c":"38","f":360.6,"m":4.0},{"c":"38","f":371.8,"m":5.0},{"c":"38","f":377.8,"m":8.1},{"c":"38","f":381.8,"m":11.0},{"c":"38","f":384.8,"m":14.1},{"c":"38","f":386.8,"m":17.0},{"c":"38","f":388.8,"m":21.2},{"c":"38","f":389.8,"m":24.4},{"c":"38","f":390.8,"m":28.9},{"c":"38","f":391.8,"m":33.0},{"c":"38","f":392.8,"m":28.2},{"c":"38","f":393.8,"m":23.4},{"c":"38","f":394.8,"m":20.1},{"c":"38","f":396.8,"m":15.8},{"c":"38","f":398.8,"m":13.0},{"c":"38","f":401.8,"m":9.9},
{"c":"39","f":311,"m":1.5},{"c":"39","f":314,"m":4.6},{"c":"39","f":316,"m":7.5},{"c":"39","f":318,"m":11.9},{"c":"39","f":319,"m":15.2},{"c":"39","f":320,"m":20.2},{"c":"39","f":321,"m":26.0},{"c":"39","f":322,"m":20.2},{"c":"39","f":323,"m":15.2},{"c":"39","f":324,"m":11.9},{"c":"39","f":326,"m":7.5},{"c":"39","f":328,"m":4.6},{"c":"39","f":378.3,"m":3.0},{"c":"39","f":382.3,"m":5.9},{"c":"39","f":385.3,"m":9.0},{"c":"39","f":387.3,"m":11.8},{"c":"39","f":389.3,"m":16.1},{"c":"39","f":390.3,"m":19.4},{"c":"39","f":391.3,"m":24.2},{"c":"39","f":392.3,"m":29.0},{"c":"39","f":393.3,"m":23.2},{"c":"39","f":394.3,"m":18.2},{"c":"39","f":395.3,"m":14.9},{"c":"39","f":397.3,"m":10.5},{"c":"39","f":399.3,"m":7.6},
{"c":"40","f":311.6,"m":0.9},{"c":"40","f":314.6,"m":4.0},{"c":"40","f":316.6,"m":6.8},{"c":"40","f":318.6,"m":11.1},{"c":"40","f":319.6,"m":14.4},{"c":"40","f":320.6,"m":19.2},{"c":"40","f":321.6,"m":24.0},{"c":"40","f":322.6,"m":19.2},{"c":"40","f":323.6,"m":14.4},{"c":"40","f":324.6,"m":11.1},{"c":"40","f":326.6,"m":6.8},{"c":"40","f":328.6,"m":4.0},{"c":"40","f":372.4,"m":3.0},{"c":"40","f":378.4,"m":6.1},{"c":"40","f":382.4,"m":9.0},{"c":"40","f":385.4,"m":12.1},{"c":"40","f":387.4,"m":15.0},{"c":"40","f":389.4,"m":19.2},{"c":"40","f":390.4,"m":22.4},{"c":"40","f":391.4,"m":26.9},{"c":"40","f":392.4,"m":31.0},{"c":"40","f":393.4,"m":25.2},{"c":"40","f":394.4,"m":20.2},{"c":"40","f":395.4,"m":16.9},{"c":"40","f":397.4,"m":12.5},{"c":"40","f":399.4,"m":9.6},{"c":"40","f":402.4,"m":6.5},
{"c":"41","f":318,"m":1.8},{"c":"41","f":319,"m":5.2},{"c":"41","f":320,"m":10.5},{"c":"41","f":321,"m":17.5},{"c":"41","f":322,"m":10.5},{"c":"41","f":323,"m":5.2},{"c":"41","f":324,"m":1.8},{"c":"41","f":365.1,"m":4.0},{"c":"41","f":373.1,"m":6.9},{"c":"41","f":379.1,"m":10.0},{"c":"41","f":383.1,"m":12.9},{"c":"41","f":386.1,"m":16.0},{"c":"41","f":388.1,"m":18.8},{"c":"41","f":390.1,"m":23.1},{"c":"41","f":391.1,"m":26.4},{"c":"41","f":392.1,"m":31.2},{"c":"41","f":393.1,"m":36.0},{"c":"41","f":394.1,"m":30.2},{"c":"41","f":395.1,"m":25.2},{"c":"41","f":396.1,"m":21.9},{"c":"41","f":398.1,"m":17.5},{"c":"41","f":400.1,"m":14.6},
{"c":"42","f":300.9,"m":6.9},{"c":"42","f":306.9,"m":10.0},{"c":"42","f":310.9,"m":12.9},{"c":"42","f":313.9,"m":16.0},{"c":"42","f":315.9,"m":18.8},{"c":"42","f":317.9,"m":23.1},{"c":"42","f":318.9,"m":26.4},{"c":"42","f":319.9,"m":31.2},{"c":"42","f":320.9,"m":36.0},{"c":"42","f":321.9,"m":32.5},{"c":"42","f":322.9,"m":28.3},{"c":"42","f":323.9,"m":25.2},{"c":"42","f":325.9,"m":21.0},{"c":"42","f":327.9,"m":18.1},{"c":"42","f":330.9,"m":15.1},{"c":"42","f":334.9,"m":12.1},{"c":"42","f":340.9,"m":9.1},{"c":"42","f":348.9,"m":6.1},{"c":"42","f":377,"m":4.0},{"c":"42","f":381,"m":6.9},{"c":"42","f":384,"m":10.0},{"c":"42","f":386,"m":12.8},{"c":"42","f":388,"m":17.1},{"c":"42","f":389,"m":20.4},{"c":"42","f":390,"m":25.2},{"c":"42","f":391,"m":30.0},{"c":"42","f":392,"m":24.2},{"c":"42","f":393,"m":19.2},{"c":"42","f":394,"m":15.9},{"c":"42","f":396,"m":11.5},{"c":"42","f":398,"m":8.6},{"c":"42","f":401,"m":5.5}
]},
"mark":{"type":"line","clip":true,"strokeWidth":2,"interpolate":"monotone"},
"encoding":{
"x":{"field":"f","type":"quantitative","scale":{"domain":[295,400],"nice":false,"zero":false},
"axis":{"title":"Frequência [Hz]","values":[300,320,340,360,380,400],"grid":true,"gridColor":"#e3e3e3","ticks":false,"labelFlush":false,"labelOverlap":false,"labelFontSize":19,"labelColor":"#262626","labelPadding":14,"labelFont":"Liberation Sans","titleFont":"Liberation Sans","titleFontSize":21,"titleFontWeight":"normal","titleColor":"#262626","titlePadding":4,"domainColor":"#262626"}},
"y":{"field":"m","type":"quantitative","scale":{"domain":[7.8,52.2],"nice":false,"zero":false},
"axis":{"title":"Magnitude [m/s²N]dB","values":[10,15,20,25,30,35,40,45,50],"grid":true,"gridColor":"#e3e3e3","ticks":false,"labelOverlap":false,"labelFontSize":19,"labelColor":"#262626","labelPadding":8,"labelFont":"Liberation Sans","titleFont":"Liberation Sans","titleFontSize":21,"titleFontWeight":"normal","titleColor":"#262626","titlePadding":12,"titleY":264,"domainColor":"#262626"}},
"color":{"field":"c","type":"nominal","legend":null,"scale":{"range":["#0072BD","#D95319","#EDB120","#7E2F8E","#77AC30","#4DBEEE","#A2142F"]}}
}},
{"data":{"values":[
{"x1":302.7,"x2":316.7,"y1":42.2,"y2":47.6},
{"x1":321.7,"x2":335.9,"y1":41.1,"y2":46.5},
{"x1":376.8,"x2":390.9,"y1":37.1,"y2":42.6},
{"x1":374.1,"x2":388.3,"y1":29.6,"y2":35.2}
]},
"mark":{"type":"rect","fill":"#fbfbea","stroke":"#c4c4b4","strokeWidth":1},
"encoding":{
"x":{"field":"x1","type":"quantitative","scale":{"domain":[295,400],"nice":false,"zero":false}},
"x2":{"field":"x2"},
"y":{"field":"y1","type":"quantitative","scale":{"domain":[7.8,52.2],"nice":false,"zero":false}},
"y2":{"field":"y2"}
}},
{"data":{"values":[
{"t":"X: 318.3","x":303.8,"y":45.7},{"t":"Y: 41.49","x":303.8,"y":43.6},
{"t":"X: 320.1","x":322.7,"y":44.7},{"t":"Y: 40.49","x":322.7,"y":42.7},
{"t":"X: 392.9","x":377.7,"y":40.7},{"t":"Y: 36.41","x":377.7,"y":38.5},
{"t":"X: 390.2","x":375.0,"y":33.2},{"t":"Y: 36.07","x":375.0,"y":31.0}
]},
"mark":{"type":"text","align":"left","baseline":"middle","fontSize":20,"font":"Liberation Sans","color":"#1a1a1a"},
"encoding":{
"x":{"field":"x","type":"quantitative","scale":{"domain":[295,400],"nice":false,"zero":false}},
"y":{"field":"y","type":"quantitative","scale":{"domain":[7.8,52.2],"nice":false,"zero":false}},
"text":{"field":"t"}
}},
{"data":{"values":[
{"x":318.3,"y":41.49},{"x":320.1,"y":40.49},{"x":392.9,"y":36.41},{"x":390.2,"y":36.07}
]},
"mark":{"type":"point","shape":"square","filled":true,"size":210,"color":"#000000","opacity":1},
"encoding":{
"x":{"field":"x","type":"quantitative","scale":{"domain":[295,400],"nice":false,"zero":false}},
"y":{"field":"y","type":"quantitative","scale":{"domain":[7.8,52.2],"nice":false,"zero":false}}
}}
]
}
